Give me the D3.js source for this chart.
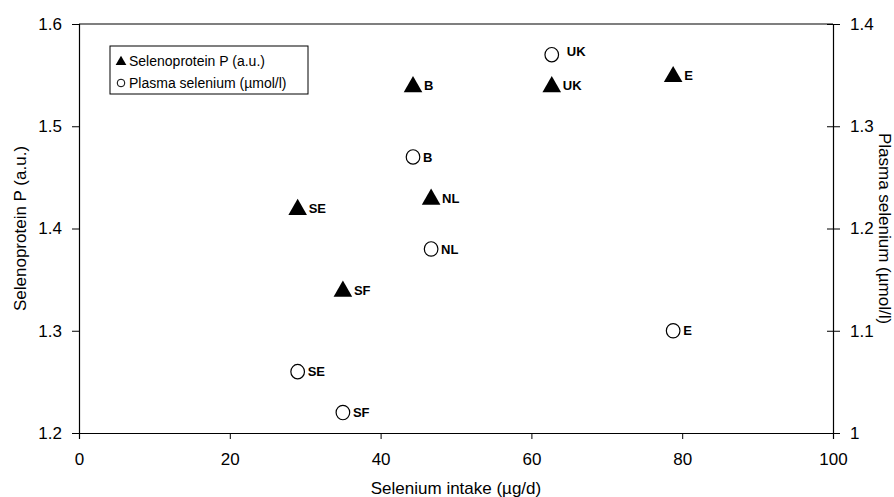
<!DOCTYPE html>
<html lang="en">

<head>
    <meta charset="UTF-8">
    <title>Selenoprotein P and plasma selenium vs selenium intake</title>
    <script src="https://d3js.org/d3.v7.min.js"></script>
    <style>
        body {
            margin: 0;
            background: #fff;
            font-family: "Liberation Sans", Arial, sans-serif;
        }
    </style>
</head>

<body>
    <div id="chart"></div>
    <script>
        // data
        const countries = ["SE", "SF", "B", "NL", "UK", "E"];
        const seIntake = [29, 35, 44.3, 46.7, 62.7, 78.8];          // µg/d
        const selenoproteinP = [1.42, 1.34, 1.54, 1.43, 1.54, 1.55]; // a.u., left axis
        const plasmaSelenium = [1.06, 1.02, 1.27, 1.18, 1.37, 1.10]; // µmol/l, right axis

        const xTicks = [0, 20, 40, 60, 80, 100];
        const leftTicks = [1.2, 1.3, 1.4, 1.5, 1.6];
        const rightTicks = [1, 1.1, 1.2, 1.3, 1.4];

        const width = 894, height = 497;
        const margin = { top: 24, right: 61, bottom: 64, left: 79 };

        const svg = d3.select("#chart").append("svg")
            .attr("width", width)
            .attr("height", height)
            .style("font-family", "'Liberation Sans', Arial, sans-serif");

        const x = d3.scaleLinear().domain([0, 100]).range([margin.left, width - margin.right]);
        const yL = d3.scaleLinear().domain([1.2, 1.6]).range([height - margin.bottom, margin.top]);
        const yR = d3.scaleLinear().domain([1, 1.4]).range([height - margin.bottom, margin.top]);

        // top frame line
        svg.append("line")
            .attr("x1", margin.left).attr("x2", width - margin.right)
            .attr("y1", margin.top).attr("y2", margin.top)
            .attr("stroke", "#000").attr("stroke-width", 1.2);

        // x axis
        svg.append("g")
            .attr("transform", `translate(0,${height - margin.bottom})`)
            .call(d3.axisBottom(x).tickValues(xTicks).tickFormat(d3.format("d")).tickSizeOuter(0).tickSize(6).tickPadding(14))
            .call(g => g.select(".domain").attr("stroke-width", 1.2))
            .call(g => g.selectAll("text").attr("font-size", 17).attr("fill", "#000"));

        // left axis
        svg.append("g")
            .attr("transform", `translate(${margin.left},0)`)
            .call(d3.axisLeft(yL).tickValues(leftTicks).tickFormat(d3.format(".1f")).tickSizeOuter(0).tickSize(7).tickPadding(10))
            .call(g => g.select(".domain").attr("stroke-width", 1.2))
            .call(g => g.selectAll("text").attr("font-size", 17).attr("fill", "#000"));

        // right axis, ticks crossing the line
        const gr = svg.append("g")
            .attr("transform", `translate(${width - margin.right},0)`)
            .call(d3.axisRight(yR).tickValues(rightTicks).tickFormat(d => d === 1 ? "1" : d3.format(".1f")(d)).tickSizeOuter(0).tickSize(7).tickPadding(10))
            .call(g => g.select(".domain").attr("stroke-width", 1.2))
            .call(g => g.selectAll("text").attr("font-size", 17).attr("fill", "#000"));
        gr.selectAll(".tick line").attr("x1", -6);

        // axis titles
        svg.append("text")
            .attr("x", (margin.left + width - margin.right) / 2)
            .attr("y", 494)
            .attr("text-anchor", "middle")
            .attr("font-size", 17)
            .text("Selenium intake (µg/d)");

        svg.append("text")
            .attr("transform", `translate(26,${(margin.top + height - margin.bottom) / 2}) rotate(-90)`)
            .attr("text-anchor", "middle")
            .attr("font-size", 17)
            .text("Selenoprotein P (a.u.)");

        svg.append("text")
            .attr("transform", `translate(879,${(margin.top + height - margin.bottom) / 2}) rotate(90)`)
            .attr("text-anchor", "middle")
            .attr("font-size", 17)
            .text("Plasma selenium (µmol/l)");

        const tri = d3.symbol().type(d3.symbolTriangle).size(150);
        const points = countries.map((c, i) => ({ c, x: seIntake[i], p: selenoproteinP[i], s: plasmaSelenium[i] }));

        // selenoprotein P - filled triangles
        const gt = svg.append("g");
        gt.selectAll("path")
            .data(points)
            .join("path")
            .attr("d", tri)
            .attr("transform", d => `translate(${x(d.x)},${yL(d.p) + 1.5})`)
            .attr("fill", "#000");
        gt.selectAll("text")
            .data(points)
            .join("text")
            .attr("x", d => x(d.x) + 11)
            .attr("y", d => yL(d.p))
            .attr("dy", "0.36em")
            .attr("font-size", 13)
            .attr("font-weight", "bold")
            .text(d => d.c);

        // plasma selenium - open circles
        const gc = svg.append("g");
        gc.selectAll("ellipse")
            .data(points)
            .join("ellipse")
            .attr("cx", d => x(d.x))
            .attr("cy", d => yR(d.s))
            .attr("rx", 6.8).attr("ry", 7.2)
            .attr("fill", "#fff")
            .attr("stroke", "#000")
            .attr("stroke-width", 1.2);
        gc.selectAll("text")
            .data(points)
            .join("text")
            .attr("x", d => x(d.x) + (d.c === "UK" ? 15 : 10))
            .attr("y", d => yR(d.s) - (d.c === "UK" ? 3 : 0))
            .attr("dy", "0.36em")
            .attr("font-size", 13)
            .attr("font-weight", "bold")
            .text(d => d.c);

        // legend
        const lg = svg.append("g").attr("transform", "translate(110,46)");
        lg.append("rect")
            .attr("width", 198).attr("height", 48)
            .attr("fill", "#fff").attr("stroke", "#000").attr("stroke-width", 1);
        lg.append("path")
            .attr("d", d3.symbol().type(d3.symbolTriangle).size(50))
            .attr("transform", "translate(11,16)")
            .attr("fill", "#000");
        lg.append("circle")
            .attr("cx", 11).attr("cy", 37).attr("r", 3.8)
            .attr("fill", "#fff").attr("stroke", "#000").attr("stroke-width", 1);
        lg.append("text").attr("x", 19).attr("y", 15).attr("dy", "0.35em")
            .attr("font-size", 14).text("Selenoprotein P (a.u.)");
        lg.append("text").attr("x", 19).attr("y", 37).attr("dy", "0.35em")
            .attr("font-size", 14).text("Plasma selenium (µmol/l)");
    </script>
</body>

</html>
